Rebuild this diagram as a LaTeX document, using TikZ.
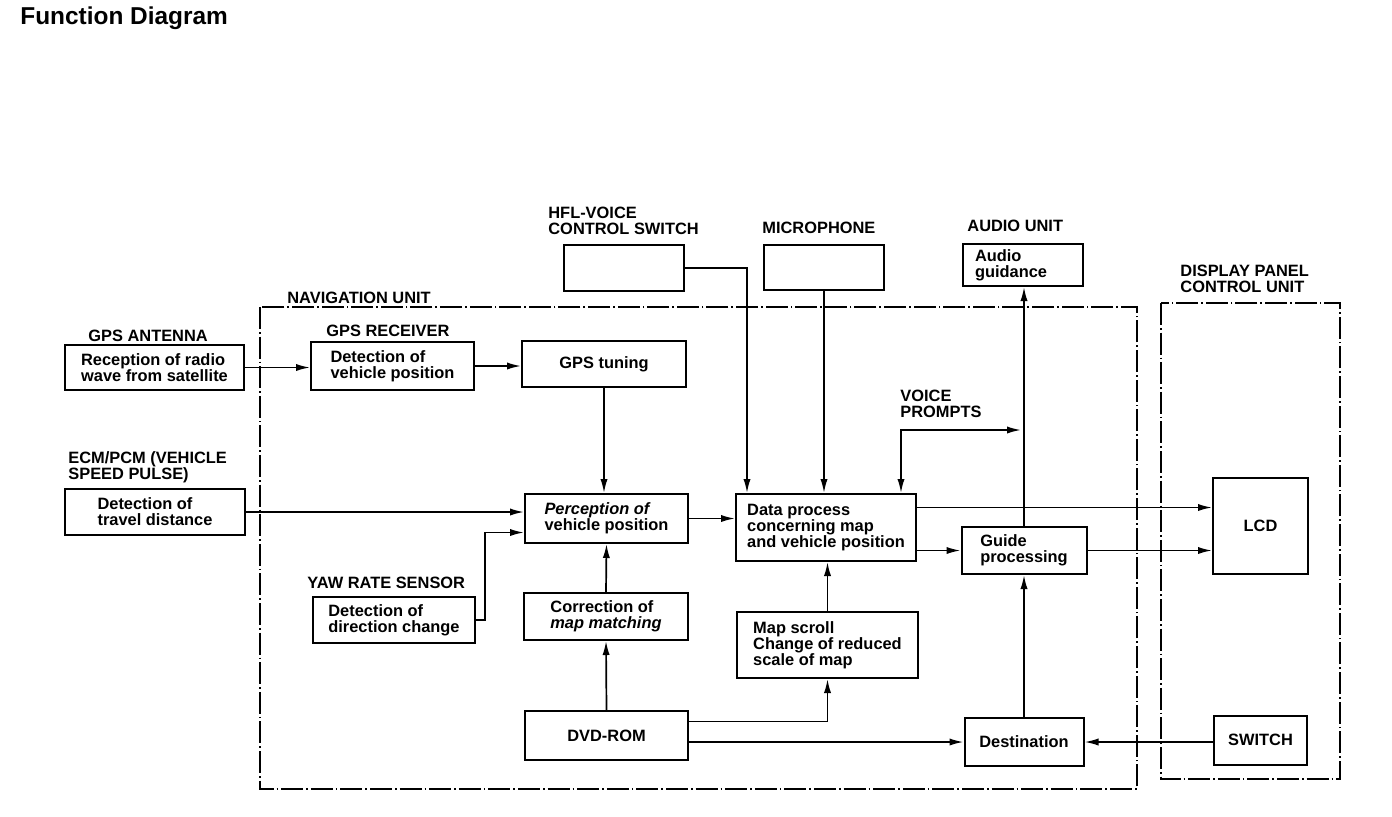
\documentclass[tikz,border=0pt]{standalone}
\usepackage{fontspec}
\setmainfont{Liberation Sans}
\usetikzlibrary{arrows.meta}

\tikzset{
  box/.style={draw, line width=1pt, align=left, inner sep=2pt,
    font=\fontsize{8.2}{8}\selectfont\bfseries},
  tag/.style={anchor=west, align=left, inner sep=0pt,
    font=\fontsize{8.2}{8.2}\selectfont\bfseries},
  tip/.tip={Latex[length=7pt,width=3.6pt]},
  flow/.style={line width=0.85pt, -tip},
  both/.style={line width=0.85pt, tip-tip},
  unit/.style={line width=0.6pt, dash pattern=on 11pt off 1.5pt on 0.8pt off 1.5pt}
}

\begin{document}
\begin{tikzpicture}[x=0.5pt,y=-0.5pt]
  \useasboundingbox (0,0) rectangle (1392,816);

  % TITLE
  \node[tag, font=\fontsize{12.2}{13}\selectfont\bfseries] (title) at (20,18) {Function Diagram};

  % UNITS (dash-dot frames)
  \draw[unit] (260,307) rectangle (1137,789);
  \draw[unit] (1161,303) rectangle (1340,779);
  \node[tag] (navlbl) at (287,298) {NAVIGATION UNIT};
  \node[tag] (dsplbl) at (1180,279) {DISPLAY PANEL\\CONTROL UNIT};

  % OUTSIDE INPUTS
  \node[tag] (antlbl) at (88,336) {GPS ANTENNA};
  \node[box, minimum width=89.5pt, minimum height=22.5pt] (ant) at (154.5,367.5)
    {Reception of radio\\wave from satellite};

  \node[tag] (ecmlbl) at (68,467) {ECM/PCM (VEHICLE\\SPEED PULSE)};
  \node[box, minimum width=90pt, minimum height=23pt] (ecm) at (155,512)
    {Detection of\\travel distance};

  \node[tag] (hfllbl) at (548,221) {HFL-VOICE\\CONTROL SWITCH};
  \node[box, minimum width=60pt, minimum height=23pt] (hfl) at (624,268) {};

  \node[tag] (miclbl) at (762,228) {MICROPHONE};
  \node[box, minimum width=60pt, minimum height=22.5pt] (mic) at (824,267.5) {};

  \node[tag] (audlbl) at (967,226) {AUDIO UNIT};
  \node[box, minimum width=60pt, minimum height=21pt] (aud) at (1023,265)
    {Audio\\guidance\hspace*{12pt}};

  % NAVIGATION UNIT
  \node[tag] (reclbl) at (326,331) {GPS RECEIVER};
  \node[box, minimum width=81.5pt, minimum height=24pt] (rec) at (392.5,366)
    {Detection of\\vehicle position};
  \node[box, minimum width=82pt, minimum height=23pt] (tun) at (604,364) {GPS tuning};

  \node[tag] (yawlbl) at (307,583) {YAW RATE SENSOR};
  \node[box, minimum width=81pt, minimum height=23pt] (yaw) at (394,620)
    {Detection of\\direction change};

  \node[box, minimum width=81.5pt, minimum height=24.5pt] (per) at (606.5,518.5)
    {\itshape Perception of\\vehicle position};
  \node[box, minimum width=82pt, minimum height=23.5pt] (cor) at (606,616.5)
    {Correction of\\\itshape map matching};
  \node[box, minimum width=81.5pt, minimum height=24.5pt] (dvd) at (606.5,735.5) {DVD-ROM};

  \node[box, minimum width=90pt, minimum height=33.5pt] (dat) at (826,527.5)
    {Data process\\concerning map\\and vehicle position};
  \node[box, minimum width=90.5pt, minimum height=33pt] (map) at (827.5,645)
    {Map scroll\\Change of reduced\\scale of map};

  \node[tag] (vplbl) at (900,404) {VOICE\\PROMPTS};
  \node[box, minimum width=62.5pt, minimum height=23.5pt] (gui) at (1024,550.5)
    {Guide\\processing};
  \node[box, minimum width=59.5pt, minimum height=24pt] (dst) at (1024,742) {Destination};

  % DISPLAY PANEL
  \node[box, minimum width=47.5pt, minimum height=48pt] (lcd) at (1260.5,526) {LCD};
  \node[box, minimum width=46.5pt, minimum height=24.5pt] (sw) at (1260.5,740) {SWITCH};

  % ARROWS
  \draw[flow] (ant.east) -- (ant.east -| rec.west);
  \draw[flow] (rec.east) -- (rec.east -| tun.west);
  \draw[flow] (tun.south) -- (tun.south |- per.north);
  \draw[flow] (ecm.east) -- (ecm.east -| per.west);
  \draw[flow] (yaw.east) -- ++(9,0) |- ([yshift=-7pt]per.west);
  \draw[flow] (cor.north) -- (per.south);
  \draw[flow] (dvd.north) -- (cor.south);
  \draw[flow] (per.east) -- (per.east -| dat.west);

  \draw[flow] (hfl.east) -| ([xshift=6pt]dat.north west);
  \draw[flow] (mic.south) -- (mic.south |- dat.north);
  \coordinate (vp) at (1021,430);
  \draw[both] ([xshift=-8pt]dat.north east) |- (vp);

  \coordinate (d1) at ([yshift=10pt]dat.east);
  \draw[flow] (d1) -- (d1 -| lcd.west);
  \draw[flow] (dat.east |- gui.west) -- (gui.west);
  \draw[flow] (gui.east) -- (gui.east -| lcd.west);
  \draw[flow] (gui.north) -- (gui.north |- aud.south);

  \draw[flow] (map.north) -- (map.north |- dat.south);
  \draw[flow] ([yshift=7pt]dvd.east) -| (map.south);
  \draw[flow] (dvd.east |- dst.west) -- (dst.west);
  \draw[flow] (dst.north) -- (gui.south);
  \draw[flow] (sw.west |- dst.east) -- (dst.east);
\end{tikzpicture}
\end{document}
